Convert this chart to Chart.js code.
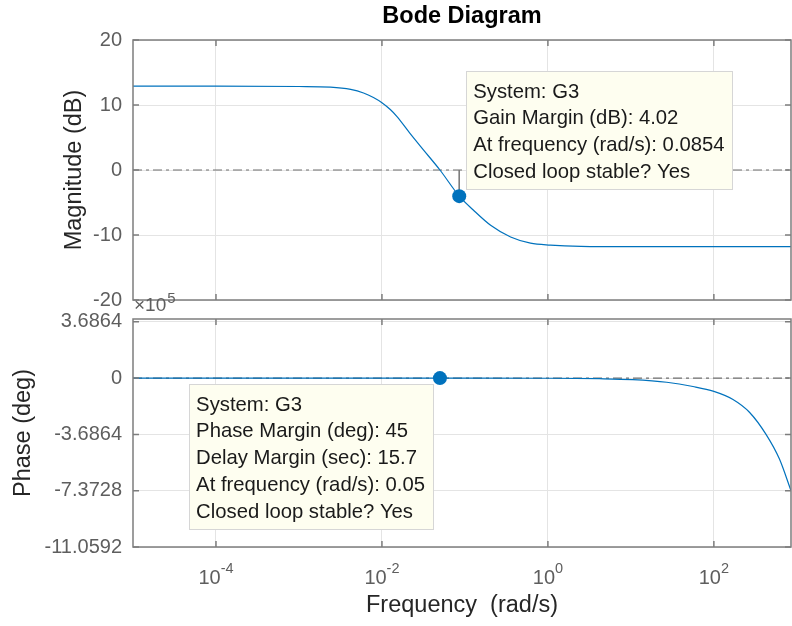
<!DOCTYPE html>
<html>
<head>
<meta charset="utf-8">
<title>Bode Diagram</title>
<script src="https://cdn.jsdelivr.net/npm/chart.js@4/dist/chart.umd.min.js"></script>
<style>
  html, body { margin: 0; padding: 0; background: #fff; }
  #wrap { position: relative; width: 792px; height: 626px; overflow: hidden; }
  canvas { position: absolute; left: 0; }
  #magChart { top: 0; }
  #phaseChart { top: 285px; }
</style>
</head>
<body>
<div id="wrap">
  <canvas id="magChart" width="792" height="310"></canvas>
  <canvas id="phaseChart" width="792" height="341"></canvas>
</div>
<script>
// frequency axis (rad/s)
const freqMin = 1e-5;
const freqMax = 850;
const freqTicks = [1e-4, 1e-2, 1, 100];
const freqTickExp = ["-4", "-2", "0", "2"];

// magnitude of G3 (dB)
const magFreq = [1e-5, 1e-4, 1e-3, 0.0024, 0.0042, 0.006, 0.0079, 0.01, 0.0126, 0.0151, 0.0219, 0.0316, 0.05, 0.0854, 0.126, 0.204, 0.355, 0.617, 1.07, 2.5, 10, 100, 850];
const magDb = [12.9, 12.9, 12.85, 12.75, 12.4, 11.85, 11.15, 10.35, 9.3, 8.25, 5.6, 3.1, 0.0, -4.02, -6.15, -8.5, -10.3, -11.25, -11.55, -11.75, -11.8, -11.8, -11.8];
const magTicks = [-20, -10, 0, 10, 20];

// phase of G3 (deg, axis scaled by the exponent label)
const phaseFreq = [1e-5, 1e-3, 0.05, 1, 4.2, 10.5, 27, 56, 100, 170, 270, 427, 617, 850];
const phaseDeg = [0, 0, 0, -0.01, -0.04, -0.1, -0.27, -0.55, -0.87, -1.4, -2.25, -3.7, -5.3, -7.37];
const phaseTicks = [-11.0592, -7.3728, -3.6864, 0, 3.6864];

// stability margins
const gmDb = 4.02;
const gmFreq = 0.0854;
const pmDeg = 45;
const pmFreq = 0.05;
const delayMargin = 15.7;

const gainTip = ["System: G3", "Gain Margin (dB): " + gmDb, "At frequency (rad/s): " + gmFreq, "Closed loop stable? Yes"];
const phaseTip = ["System: G3", "Phase Margin (deg): " + pmDeg, "Delay Margin (sec): " + delayMargin, "At frequency (rad/s): " + pmFreq, "Closed loop stable? Yes"];

const FONT = "'Liberation Sans', Arial, Helvetica, sans-serif";
const BLUE = "#0072BD";
const FRAME = "#7d7d7d";
const TICKTXT = "#5e5e5e";
const LABEL = "#262626";

const toXY = (xs, ys) => xs.map((x, i) => ({ x: x, y: ys[i] }));

// axes box with inward ticks, datatips, title and superscript tick labels
const bodeFrame = {
  id: "bodeFrame",
  afterDatasetsDraw(chart, args, opts) {
    const ctx = chart.ctx;
    const a = chart.chartArea;
    const xs = chart.scales.x, ys = chart.scales.y;
    ctx.save();

    // data tip
    if (opts.tip) {
      const t = opts.tip;
      const px = xs.getPixelForValue(t.x), py = ys.getPixelForValue(t.y);
      ctx.font = "20.3px " + FONT;
      let w = 0;
      t.lines.forEach(s => { w = Math.max(w, ctx.measureText(s).width); });
      w += 15;
      const lh = 26.8;
      const h = t.lines.length * lh + 11;
      let left, top;
      if (t.side === "upright") { left = px + 7; top = py - 7 - h; }
      else { left = px - 7 - w; top = py + 6; }
      ctx.fillStyle = "#fefef0";
      ctx.fillRect(left, top, w, h);
      ctx.strokeStyle = "#d6d6d6";
      ctx.lineWidth = 1;
      ctx.strokeRect(Math.round(left) + 0.5, Math.round(top) + 0.5, Math.round(w), Math.round(h));
      ctx.fillStyle = "#1a1a1a";
      ctx.textBaseline = "middle";
      ctx.textAlign = "left";
      t.lines.forEach((s, i) => ctx.fillText(s, left + 7, top + 21 + i * lh));
    }

    // box
    ctx.strokeStyle = FRAME;
    ctx.lineWidth = 1.5;
    ctx.strokeRect(a.left, a.top, a.right - a.left, a.bottom - a.top);
    ctx.beginPath();
    xs.ticks.forEach(tk => {
      const x = xs.getPixelForValue(tk.value);
      ctx.moveTo(x, a.top); ctx.lineTo(x, a.top + 6);
      ctx.moveTo(x, a.bottom); ctx.lineTo(x, a.bottom - 6);
    });
    ys.ticks.forEach(tk => {
      const y = ys.getPixelForValue(tk.value);
      ctx.moveTo(a.left, y); ctx.lineTo(a.left + 6, y);
      ctx.moveTo(a.right, y); ctx.lineTo(a.right - 6, y);
    });
    ctx.stroke();

    // title
    if (opts.title) {
      ctx.fillStyle = "#000";
      ctx.font = "bold 23.5px " + FONT;
      ctx.textAlign = "center";
      ctx.textBaseline = "middle";
      ctx.fillText(opts.title, (a.left + a.right) / 2, 17);
    }

    // 10^n labels under the frequency axis
    if (opts.freqLabels) {
      ctx.fillStyle = TICKTXT;
      ctx.textBaseline = "middle";
      ctx.textAlign = "left";
      xs.ticks.forEach((tk, i) => {
        const x = xs.getPixelForValue(tk.value);
        const exp = freqTickExp[i];
        ctx.font = "20px " + FONT;
        const wb = ctx.measureText("10").width;
        ctx.font = "14.5px " + FONT;
        const we = ctx.measureText(exp).width;
        const x0 = x - (wb + we) / 2;
        ctx.font = "20px " + FONT;
        ctx.fillText("10", x0, a.bottom + 31);
        ctx.font = "14.5px " + FONT;
        ctx.fillText(exp, x0 + wb, a.bottom + 22);
      });
    }

    // axis exponent
    if (opts.exponent) {
      ctx.fillStyle = TICKTXT;
      ctx.textBaseline = "middle";
      ctx.textAlign = "left";
      ctx.font = "19px " + FONT;
      const x0 = a.left + 1;
      ctx.fillText("\u00d710", x0, a.top - 13);
      const wb = ctx.measureText("\u00d710").width;
      ctx.font = "15px " + FONT;
      ctx.fillText(opts.exponent, x0 + wb + 1, a.top - 20);
    }
    ctx.restore();
  }
};

function freqAxis(height, showTitle) {
  return {
    type: "logarithmic",
    min: freqMin,
    max: freqMax,
    afterBuildTicks: s => { s.ticks = freqTicks.map(v => ({ value: v })); },
    afterFit: s => {
      s.height = height;
      s.paddingLeft = 0; s.paddingRight = 0;
    },
    ticks: { display: false },
    grid: { color: "#e4e4e4", lineWidth: 1, drawTicks: false },
    border: { display: false },
    title: {
      display: showTitle,
      text: "Frequency  (rad/s)",
      color: LABEL,
      font: { family: FONT, size: 23.5 },
      padding: { top: 0, bottom: 6 }
    }
  };
}

function valueAxis(min, max, tickVals, titleText, titlePad) {
  return {
    type: "linear",
    min: min,
    max: max,
    afterBuildTicks: s => { s.ticks = tickVals.map(v => ({ value: v })); },
    afterFit: s => {
      s.width = 133;
      s.paddingTop = 0; s.paddingBottom = 0;
    },
    ticks: {
      color: TICKTXT,
      font: { family: FONT, size: 20 },
      padding: 11,
      callback: v => String(v)
    },
    grid: { color: "#e4e4e4", lineWidth: 1, drawTicks: false },
    border: { display: false },
    title: {
      display: true,
      text: titleText,
      color: LABEL,
      font: { family: FONT, size: 23.5 },
      padding: { top: titlePad, bottom: 0 }
    }
  };
}

const commonOpts = {
  responsive: false,
  animation: false,
  events: [],
  elements: { line: { borderCapStyle: "butt" } }
};

// magnitude plot
new Chart(document.getElementById("magChart"), {
  type: "line",
  data: {
    datasets: [
      { data: [{ x: gmFreq, y: -gmDb }], showLine: false, pointRadius: 7, pointBackgroundColor: BLUE, pointBorderWidth: 0 },
      { data: toXY(magFreq, magDb), borderColor: BLUE, borderWidth: 1.2, pointRadius: 0, cubicInterpolationMode: "monotone" },
      { data: [{ x: gmFreq, y: 0 }, { x: gmFreq, y: -gmDb }], borderColor: "#7a7a7a", borderWidth: 1, pointRadius: 0 },
      { data: [{ x: freqMin, y: 0 }, { x: freqMax, y: 0 }], borderColor: "#6e6e6e", borderWidth: 1.2, borderDash: [9, 4, 3, 4], pointRadius: 0 }
    ]
  },
  options: {
    ...commonOpts,
    layout: { autoPadding: false, padding: { top: 40, right: 1, bottom: 0, left: 0 } },
    scales: {
      x: freqAxis(10, false),
      y: valueAxis(-20, 20, magTicks, "Magnitude (dB)", 60)
    },
    plugins: {
      legend: { display: false },
      tooltip: { enabled: false },
      bodeFrame: {
        title: "Bode Diagram",
        tip: { lines: gainTip, x: gmFreq, y: -gmDb, side: "upright" }
      }
    }
  },
  plugins: [bodeFrame]
});

// phase plot
new Chart(document.getElementById("phaseChart"), {
  type: "line",
  data: {
    datasets: [
      { data: [{ x: pmFreq, y: 0 }], showLine: false, pointRadius: 7, pointBackgroundColor: BLUE, pointBorderWidth: 0 },
      { data: toXY(phaseFreq, phaseDeg), borderColor: BLUE, borderWidth: 1.2, pointRadius: 0, cubicInterpolationMode: "monotone" },
      { data: [{ x: freqMin, y: 0 }, { x: freqMax, y: 0 }], borderColor: "#6e6e6e", borderWidth: 1.2, borderDash: [9, 4, 3, 4], pointRadius: 0 }
    ]
  },
  options: {
    ...commonOpts,
    layout: { autoPadding: false, padding: { top: 34, right: 1, bottom: 0, left: 0 } },
    scales: {
      x: freqAxis(79, true),
      y: valueAxis(-11.0592, 3.87, phaseTicks, "Phase (deg)", 9)
    },
    plugins: {
      legend: { display: false },
      tooltip: { enabled: false },
      bodeFrame: {
        freqLabels: true,
        exponent: "5",
        tip: { lines: phaseTip, x: pmFreq, y: 0, side: "downleft" }
      }
    }
  },
  plugins: [bodeFrame]
});
</script>
</body>
</html>
